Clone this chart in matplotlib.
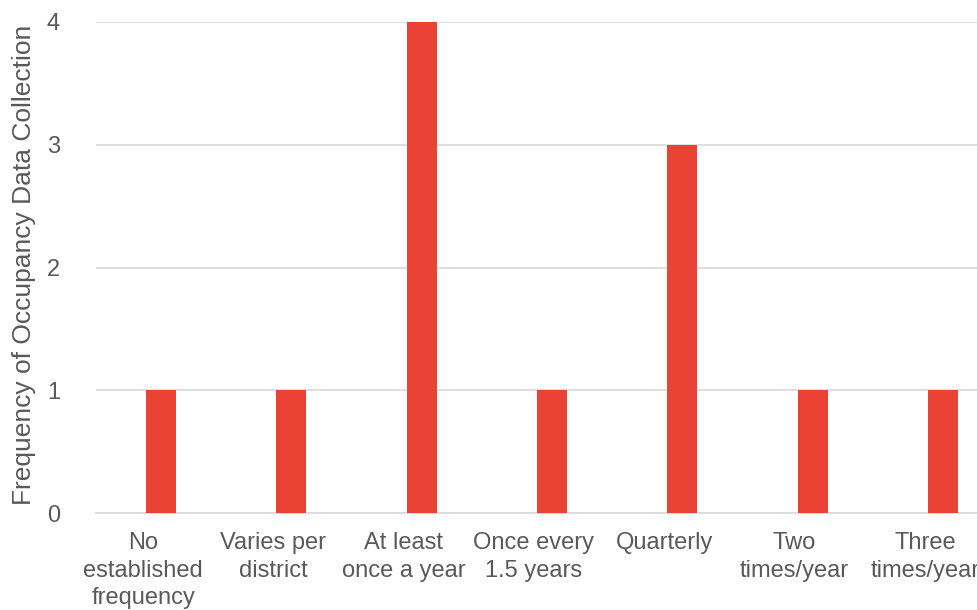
import matplotlib.pyplot as plt
from matplotlib.transforms import ScaledTranslation

plt.rcParams['font.family'] = ['Liberation Sans', 'DejaVu Sans']

categories = ['No\nestablished\nfrequency', 'Varies per\ndistrict', 'At least\nonce a year',
              'Once every\n1.5 years', 'Quarterly', 'Two\ntimes/year', 'Three\ntimes/year']
counts = [1, 1, 4, 1, 3, 1, 1]

text_color = '#595959'
fig = plt.figure(figsize=(9.78, 6.1), dpi=100)
ax = fig.add_axes([96 / 978, 97 / 610, 882 / 978, 491 / 610])

x = list(range(len(categories)))
ax.bar(x, counts, width=0.23, color='#EA4335', zorder=3)

ax.set_xlim(-0.5, 6.27)
ax.set_ylim(0, 4)
ax.set_yticks([0, 1, 2, 3, 4])
ax.set_xticks(x)
ax.set_xticklabels(categories, linespacing=1.3)
ax.yaxis.grid(True, color='#D9D9D9', linewidth=1.2, zorder=0)
ax.tick_params(axis='both', length=0, labelcolor=text_color)
ax.tick_params(axis='x', labelsize=17, pad=14)
ax.tick_params(axis='y', labelsize=17, pad=26)
for side in ['top', 'right', 'left']:
    ax.spines[side].set_visible(False)
ax.spines['bottom'].set_color('#D9D9D9')
ax.spines['bottom'].set_linewidth(1.2)

# category labels sit a bit left of the bars in the original
shift = ScaledTranslation(-0.18, 0, fig.dpi_scale_trans)
for lbl in ax.get_xticklabels():
    lbl.set_transform(lbl.get_transform() + shift)

ax.set_ylabel('Frequency of Occupancy Data Collection', fontsize=19, color=text_color)
ax.yaxis.set_label_coords(-60 / 882, 0.505)

fig.savefig('out.png', dpi=100)
